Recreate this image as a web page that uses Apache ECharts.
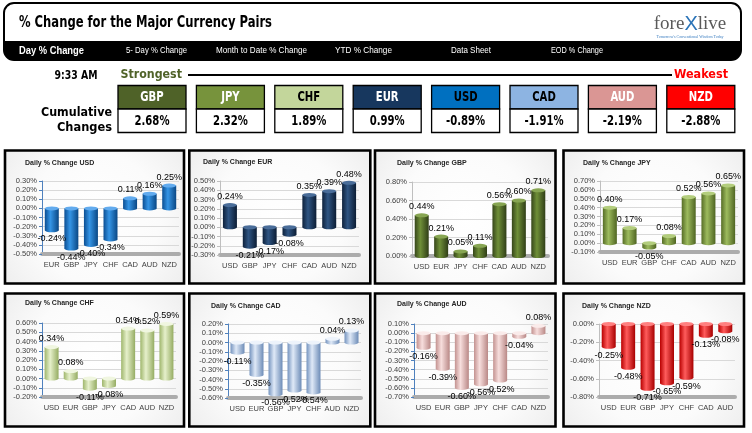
<!DOCTYPE html>
<html>
<head>
<meta charset="utf-8">
<script src="https://cdn.jsdelivr.net/npm/echarts/dist/echarts.min.js"></script>
<style>
html,body{margin:0;padding:0;background:#fff;}
#chart{width:752px;height:433px;}
</style>
</head>
<body>
<div id="chart"></div>
<script>
// ---------------- DATA ----------------
const timeLabel = '9:33 AM';
const strengthOrder = ['GBP', 'JPY', 'CHF', 'EUR', 'USD', 'CAD', 'AUD', 'NZD'];
const cumulativeChanges = [2.68, 2.32, 1.89, 0.99, -0.89, -1.91, -2.19, -2.88];
const navItems = ['Day % Change', '5- Day % Change', 'Month to Date % Change', 'YTD % Change', 'Data Sheet', 'EOD % Change'];

const usdCats = ['EUR', 'GBP', 'JPY', 'CHF', 'CAD', 'AUD', 'NZD'];
const usdVals = [-0.24, -0.44, -0.40, -0.34, 0.11, 0.16, 0.25];
const usdAxis = [-0.5, 0.3, 0.1];   // min, max, interval

const eurCats = ['USD', 'GBP', 'JPY', 'CHF', 'CAD', 'AUD', 'NZD'];
const eurVals = [0.24, -0.21, -0.17, -0.08, 0.35, 0.39, 0.48];
const eurAxis = [-0.3, 0.5, 0.1];

const gbpCats = ['USD', 'EUR', 'JPY', 'CHF', 'CAD', 'AUD', 'NZD'];
const gbpVals = [0.44, 0.21, 0.05, 0.11, 0.56, 0.60, 0.71];
const gbpAxis = [0, 0.8, 0.2];

const jpyCats = ['USD', 'EUR', 'GBP', 'CHF', 'CAD', 'AUD', 'NZD'];
const jpyVals = [0.40, 0.17, -0.05, 0.08, 0.52, 0.56, 0.65];
const jpyAxis = [-0.1, 0.7, 0.1];

const chfCats = ['USD', 'EUR', 'GBP', 'JPY', 'CAD', 'AUD', 'NZD'];
const chfVals = [0.34, 0.08, -0.11, -0.08, 0.54, 0.52, 0.59];
const chfAxis = [-0.2, 0.6, 0.1];

const cadCats = ['USD', 'EUR', 'GBP', 'JPY', 'CHF', 'AUD', 'NZD'];
const cadVals = [-0.11, -0.35, -0.56, -0.52, -0.54, 0.04, 0.13];
const cadAxis = [-0.6, 0.2, 0.1];

const audCats = ['USD', 'EUR', 'GBP', 'JPY', 'CHF', 'CAD', 'NZD'];
const audVals = [-0.16, -0.39, -0.60, -0.56, -0.52, -0.04, 0.08];
const audAxis = [-0.7, 0.1, 0.1];

const nzdCats = ['USD', 'EUR', 'GBP', 'JPY', 'CHF', 'CAD', 'AUD'];
const nzdVals = [-0.25, -0.48, -0.71, -0.65, -0.59, -0.13, -0.08];
const nzdAxis = [-0.8, 0, 0.2];

// ---------------- STYLE / LAYOUT ----------------
const IMPACT = '"DejaVu Sans Condensed", "DejaVu Sans", sans-serif';
const NARROW = '"Liberation Sans Narrow", "Liberation Sans", sans-serif';
const SANS = '"Liberation Sans", Arial, sans-serif';

const boxFill = ['#4f6228', '#77933c', '#c3d69b', '#17375e', '#0070c0', '#8db4e2', '#da9694', '#ff0000'];
const boxTextColor = ['#fff', '#fff', '#000', '#fff', '#000', '#000', '#fff', '#fff'];

const barStyle = {
  USD: {stops: ['#0b4e92', '#3595e6', '#0a4784'], cap: '#62abee', axis: '#4f81bd'},
  EUR: {stops: ['#0e213b', '#2f5583', '#0c1d34'], cap: '#4a6d99', axis: '#bfbfbf'},
  GBP: {stops: ['#36461a', '#6f8f38', '#303e17'], cap: '#87a552', axis: '#bfbfbf'},
  JPY: {stops: ['#566d26', '#9dbb5e', '#4f6522'], cap: '#b3cd7d', axis: '#bfbfbf'},
  CHF: {stops: ['#9fb66c', '#e6f0cb', '#95ac62'], cap: '#f0f6e0', axis: '#4f81bd'},
  CAD: {stops: ['#7594bf', '#dfe9f7', '#6d8cb7'], cap: '#edf3fb', axis: '#4f81bd'},
  AUD: {stops: ['#c39290', '#f7dedd', '#b98886'], cap: '#faebea', axis: '#4f81bd'},
  NZD: {stops: ['#b80000', '#ff5c5c', '#a80000'], cap: '#ff8080', axis: '#bfbfbf'}
};

const panels = [
  {base: 'USD', cats: usdCats, vals: usdVals, axis: usdAxis, rect: [5, 150.5, 179, 133], grid: [42, 181, 137, 73], title: [25, 160]},
  {base: 'EUR', cats: eurCats, vals: eurVals, axis: eurAxis, rect: [189.3, 150.5, 181, 133], grid: [220, 181, 139, 74], title: [203, 159]},
  {base: 'GBP', cats: gbpCats, vals: gbpVals, axis: gbpAxis, rect: [375, 150.5, 180.5, 133], grid: [412, 182, 136, 74], title: [397, 160]},
  {base: 'JPY', cats: jpyCats, vals: jpyVals, axis: jpyAxis, rect: [563.5, 150.5, 180.5, 133], grid: [600, 181, 138, 71], title: [583, 160]},
  {base: 'CHF', cats: chfCats, vals: chfVals, axis: chfAxis, rect: [5, 293.5, 179, 133], grid: [42, 323, 134, 74], title: [25, 300]},
  {base: 'CAD', cats: cadCats, vals: cadVals, axis: cadAxis, rect: [189.3, 293.5, 181, 133], grid: [228, 324, 133, 74], title: [211, 303]},
  {base: 'AUD', cats: audCats, vals: audVals, axis: audAxis, rect: [375, 293.5, 180.5, 133], grid: [414, 324, 134, 73], title: [397, 301]},
  {base: 'NZD', cats: nzdCats, vals: nzdVals, axis: nzdAxis, rect: [563.5, 293.5, 180.5, 133], grid: [599, 324, 136, 73], title: [582, 303]}
];

// ---------------- HELPERS ----------------
const mctx = document.createElement('canvas').getContext('2d');
function fitScale(text, weight, size, family, targetW) {
  mctx.font = weight + ' ' + size + 'px ' + family;
  const w = mctx.measureText(text).width;
  return w > 0 ? targetW / w : 1;
}
function txt(text, x, y, o) {
  const weight = o.weight || 'normal';
  const el = {
    type: 'text', x: x, y: y, z: 10,
    style: {
      text: text, fill: o.color || '#000', fontSize: o.size, fontFamily: o.family,
      fontWeight: weight, textAlign: o.align || 'left', textVerticalAlign: 'middle'
    }
  };
  if (o.w) el.scaleX = fitScale(text, weight, o.size, o.family, o.w);
  else if (o.sx) el.scaleX = o.sx;
  return el;
}
const fmtPct = v => v.toFixed(2) + '%';

// ---------------- GRAPHIC (header) ----------------
const graphics = [];
graphics.push({type: 'rect', z: 1, shape: {x: 4, y: 3, width: 737, height: 57, r: 10}, style: {fill: '#fff', stroke: '#000', lineWidth: 2}});
graphics.push({type: 'rect', z: 2, shape: {x: 4, y: 41, width: 737, height: 19, r: [0, 0, 10, 10]}, style: {fill: '#000'}});
graphics.push(txt('% Change for the Major Currency Pairs', 19, 22.5, {weight: 'bold', size: 16, family: IMPACT, w: 253}));
graphics.push({
  type: 'text', x: 690, y: 24, z: 10,
  style: {
    text: '{a|fore}{b|X}{a|live}', textAlign: 'center', textVerticalAlign: 'middle',
    rich: {
      a: {fontFamily: '"Liberation Serif", serif', fontSize: 19, fill: '#5a5a5a'},
      b: {fontFamily: SANS, fontSize: 20, fill: '#2b74b8'}
    }
  }
});
graphics.push(txt("Tomorrow's Conventional Wisdom Today", 690, 37, {size: 4, family: '"Liberation Serif", serif', color: '#3a7dc0', align: 'center'}));

const navX = [19, 126, 216, 335, 451, 551];
const navW = [65, 61, 91, 57, 40, 52];
navItems.forEach((t, i) => {
  graphics.push(txt(t, navX[i], i === 0 ? 51 : 50.5, {
    weight: i === 0 ? 'bold' : 'normal', size: i === 0 ? 11 : 9.5, family: NARROW, color: '#fff', w: navW[i]
  }));
});

graphics.push(txt(timeLabel, 54.5, 75.5, {weight: 'bold', size: 12.5, family: IMPACT, w: 43}));
graphics.push(txt('Strongest', 120.5, 74.5, {weight: 'bold', size: 13, family: IMPACT, w: 61.5, color: '#4f6228'}));
graphics.push({type: 'line', z: 10, shape: {x1: 188, y1: 75, x2: 672, y2: 75}, style: {stroke: '#000', lineWidth: 2}});
graphics.push(txt('Weakest', 674, 74.5, {weight: 'bold', size: 13, family: IMPACT, w: 54, color: '#ff0000'}));
graphics.push(txt('Cumulative', 112, 112.5, {weight: 'bold', size: 12.5, family: IMPACT, w: 71, align: 'right'}));
graphics.push(txt('Changes', 112, 127.8, {weight: 'bold', size: 12.5, family: IMPACT, w: 55, align: 'right'}));

strengthOrder.forEach((c, i) => {
  const x = 118 + i * 78.4;
  graphics.push({type: 'rect', z: 5, shape: {x: x, y: 85.5, width: 68, height: 23.5}, style: {fill: boxFill[i], stroke: '#000', lineWidth: 1.3}});
  graphics.push({type: 'rect', z: 5, shape: {x: x, y: 109, width: 68, height: 23.5}, style: {fill: '#fff', stroke: '#000', lineWidth: 1.3}});
  graphics.push(txt(c, x + 34, 97.5, {weight: 'bold', size: 14, family: IMPACT, sx: 0.8, color: boxTextColor[i], align: 'center'}));
  graphics.push(txt(fmtPct(cumulativeChanges[i]), x + 34, 121, {weight: 'bold', size: 14, family: IMPACT, sx: 0.8, align: 'center'}));
});

panels.forEach(p => {
  graphics.push({
    type: 'rect', z: -10,
    shape: {x: p.rect[0], y: p.rect[1], width: p.rect[2], height: p.rect[3]},
    style: {
      fill: {type: 'radial', x: 0.5, y: 0.5, r: 0.8, colorStops: [{offset: 0, color: '#ffffff'}, {offset: 0.6, color: '#fbfbfb'}, {offset: 1, color: '#efefef'}]},
      stroke: '#000', lineWidth: 2.6
    }
  });
});

// ---------------- CHART OPTIONS ----------------
const titles = [], grids = [], xAxes = [], yAxes = [], series = [];
panels.forEach((p, i) => {
  const st = barStyle[p.base];
  titles.push({
    text: 'Daily % Change ' + p.base, left: p.title[0], top: p.title[1], padding: 0,
    textStyle: {fontSize: 7, fontWeight: 'bold', color: '#262626', fontFamily: SANS}
  });
  grids.push({left: p.grid[0], top: p.grid[1], width: p.grid[2], height: p.grid[3], containLabel: false});
  xAxes.push({
    type: 'category', gridIndex: i, data: p.cats,
    axisLine: {show: true, onZero: false, lineStyle: {color: '#acacac', width: 4}},
    axisTick: {show: false},
    axisLabel: {fontSize: 7.5, color: '#404040', margin: 7, fontFamily: SANS, interval: 0}
  });
  yAxes.push({
    type: 'value', gridIndex: i, min: p.axis[0], max: p.axis[1], interval: p.axis[2],
    axisLine: {show: true, lineStyle: {color: st.axis, width: 1}},
    axisTick: {show: true, length: 3, lineStyle: {color: st.axis}},
    splitLine: {show: true, lineStyle: {color: '#d9d9d9', width: 1}},
    axisLabel: {fontSize: 7.5, color: '#404040', margin: 5, fontFamily: SANS, formatter: v => fmtPct(v)}
  });
  const grad = {
    type: 'linear', x: 0, y: 0, x2: 1, y2: 0,
    colorStops: [{offset: 0, color: st.stops[0]}, {offset: 0.4, color: st.stops[1]}, {offset: 1, color: st.stops[2]}]
  };
  series.push({
    type: 'bar', xAxisIndex: i, yAxisIndex: i, barWidth: 14, z: 2,
    data: p.vals.map(v => ({value: v, label: {position: v >= 0 ? 'top' : 'bottom'}})),
    itemStyle: {color: grad},
    label: {show: true, formatter: q => fmtPct(q.value), fontSize: 9, color: '#000', fontFamily: SANS, distance: 4},
    silent: true
  });
  // rounded lower end of each cylinder
  series.push({
    type: 'scatter', xAxisIndex: i, yAxisIndex: i, z: 1, silent: true,
    symbol: 'circle', symbolSize: [14, 4],
    data: p.vals.map(v => Math.min(v, 0)),
    itemStyle: {color: grad, opacity: 1}
  });
  // top face of each cylinder
  series.push({
    type: 'scatter', xAxisIndex: i, yAxisIndex: i, z: 3, silent: true,
    symbol: 'circle', symbolSize: [14, 4],
    data: p.vals.map(v => Math.max(v, 0)),
    itemStyle: {color: st.cap, opacity: 1}
  });
});

const chart = echarts.init(document.getElementById('chart'), null, {renderer: 'canvas'});
chart.setOption({
  animation: false,
  backgroundColor: '#ffffff',
  title: titles,
  grid: grids,
  xAxis: xAxes,
  yAxis: yAxes,
  series: series,
  graphic: {elements: graphics}
});
</script>
</body>
</html>
